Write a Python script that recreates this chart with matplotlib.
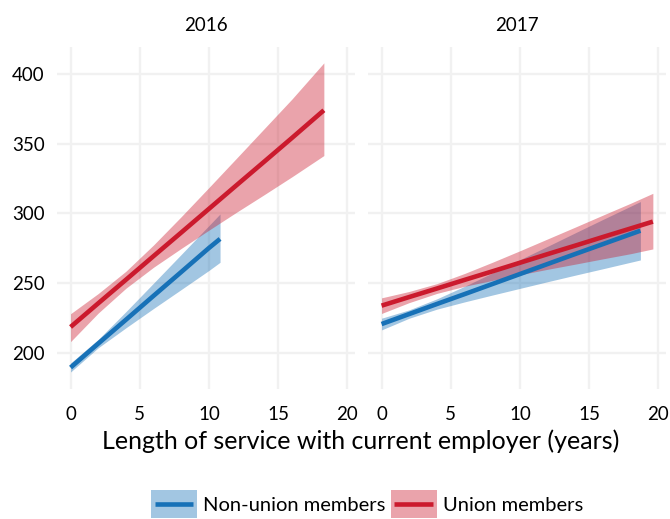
import matplotlib
matplotlib.use("Agg")
import matplotlib.pyplot as plt
from matplotlib.patches import Rectangle
from matplotlib.lines import Line2D
from matplotlib.legend_handler import HandlerBase

plt.rcParams['font.family'] = ['Lato', 'DejaVu Sans']

# Weekly pay vs. tenure: fitted lines with confidence bands
years = ["2016", "2017"]
groups = ["Non-union members", "Union members"]

# 2016 - non-union
x_16_non = [0, 2, 4, 6, 8, 10, 10.8]
fit_16_non = [189.4, 206.6, 223.7, 240.9, 258.0, 275.2, 281.7]
lo_16_non = [186.2, 203.6, 217.9, 231.8, 245.4, 259.1, 264.9]
hi_16_non = [192.6, 209.6, 229.5, 250.0, 270.6, 291.3, 299.6]

# 2016 - union
x_16_uni = [0, 2, 4, 6, 8, 10, 12, 14, 16, 18.3]
fit_16_uni = [218.5, 235.5, 252.4, 269.4, 286.3, 303.3, 320.3, 337.2, 354.2, 374.0]
lo_16_uni = [208.0, 228.5, 246.3, 261.4, 274.9, 288.0, 300.9, 313.5, 326.3, 341.5]
hi_16_uni = [228.0, 242.5, 258.5, 277.4, 297.7, 318.6, 339.7, 360.9, 382.1, 408.0]

# 2017 - non-union
x_17_non = [0, 2, 4, 6, 8, 10, 12, 14, 16, 18.7]
fit_17_non = [220.6, 227.8, 235.0, 242.1, 249.3, 256.5, 263.7, 270.9, 278.0, 287.6]
lo_17_non = [216.4, 224.8, 231.3, 236.5, 241.4, 246.2, 251.0, 255.7, 260.3, 266.6]
hi_17_non = [224.8, 230.8, 238.7, 247.7, 257.2, 266.8, 276.4, 286.1, 295.7, 308.5]

# 2017 - union
x_17_uni = [0, 2, 4, 6, 8, 10, 12, 14, 16, 18, 19.6]
fit_17_uni = [233.8, 240.0, 246.1, 252.3, 258.4, 264.6, 270.8, 276.9, 283.1, 289.2, 294.1]
lo_17_uni = [228.2, 236.0, 242.6, 247.7, 251.9, 256.0, 259.9, 263.6, 267.4, 271.1, 274.5]
hi_17_uni = [239.4, 244.0, 249.6, 256.9, 264.9, 273.2, 281.7, 290.2, 298.8, 307.3, 314.4]

x_ticks = [0, 5, 10, 15, 20]
y_ticks = [200, 250, 300, 350, 400]

BLUE = "#1771B7"
RED = "#CB1A2D"
BAND_ALPHA = 0.4
GRID = "#F1F1F1"
LW = 3.3

panels = {
    "2016": [(x_16_non, fit_16_non, lo_16_non, hi_16_non, BLUE),
             (x_16_uni, fit_16_uni, lo_16_uni, hi_16_uni, RED)],
    "2017": [(x_17_non, fit_17_non, lo_17_non, hi_17_non, BLUE),
             (x_17_uni, fit_17_uni, lo_17_uni, hi_17_uni, RED)],
}


class BandKey:
    def __init__(self, color):
        self.color = color


class BandKeyHandler(HandlerBase):
    """Legend key: a filled band square with the fitted line across it."""
    def create_artists(self, legend, orig_handle, xdescent, ydescent,
                       width, height, fontsize, trans):
        rect = Rectangle((-xdescent, -ydescent), width, height,
                         facecolor=orig_handle.color, alpha=BAND_ALPHA,
                         linewidth=0, transform=trans)
        y = -ydescent + height / 2
        pad = width * 0.08
        line = Line2D([-xdescent + pad, -xdescent + width - pad], [y, y],
                      color=orig_handle.color, linewidth=LW,
                      solid_capstyle='butt', transform=trans)
        return [rect, line]


W, H = 670, 519
fig = plt.figure(figsize=(W / 100, H / 100), dpi=100)

top_px, bot_px = 47, 389
panel_w = 298
lefts = [57, 368]

for i, yr in enumerate(years):
    ax = fig.add_axes([lefts[i] / W, (H - bot_px) / H, panel_w / W, (bot_px - top_px) / H])
    for x, fit, lo, hi, col in panels[yr]:
        ax.fill_between(x, lo, hi, color=col, alpha=BAND_ALPHA, linewidth=0, zorder=2)
        ax.plot(x, fit, color=col, linewidth=LW, solid_capstyle='butt', zorder=3)
    ax.set_xlim(-0.98, 20.55)
    ax.set_ylim(174.0, 419.4)
    ax.set_xticks(x_ticks)
    ax.set_yticks(y_ticks)
    ax.grid(True, color=GRID, linewidth=1.7, zorder=0)
    ax.set_axisbelow(True)
    for s in ax.spines.values():
        s.set_visible(False)
    ax.tick_params(length=0, labelsize=13.5, colors='black')
    ax.tick_params(axis='x', pad=12)
    ax.tick_params(axis='y', pad=9)
    if i > 0:
        ax.tick_params(axis='y', labelleft=False)
    ax.text(0.5, 1 + 21 / (bot_px - top_px), yr, transform=ax.transAxes,
            ha='center', va='center', fontsize=13.5)

fig.text(361 / W, 1 - 441 / H, "Length of service with current employer (years)",
         ha='center', va='center', fontsize=18)

keys = [BandKey(BLUE), BandKey(RED)]
fig.legend(keys, groups, loc='center', bbox_to_anchor=(367 / W, 1 - 504 / H),
           ncol=2, frameon=False, fontsize=14.5, handlelength=2.3, handleheight=1.75,
           handletextpad=0.3, columnspacing=0.25, borderpad=0.2,
           handler_map={BandKey: BandKeyHandler()})

fig.savefig("out.png", dpi=100)
